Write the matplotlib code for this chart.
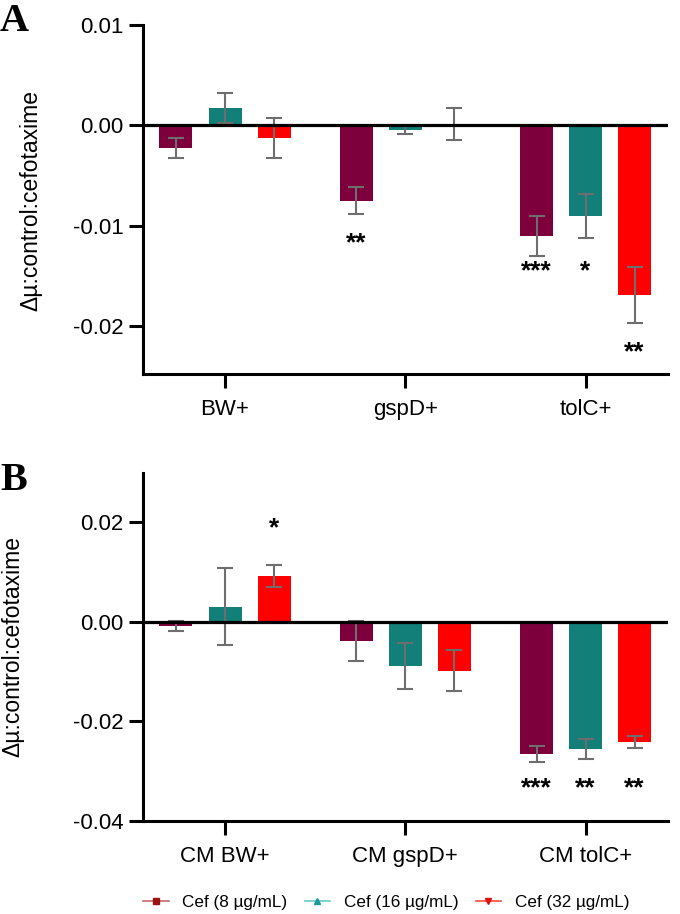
import numpy as np
import matplotlib
matplotlib.use("Agg")
import matplotlib.pyplot as plt
from matplotlib.lines import Line2D

plt.rcParams['font.family'] = ['Liberation Sans', 'DejaVu Sans']
plt.rcParams['axes.unicode_minus'] = False

# ---------------- data ----------------
series = ['Cef (8 µg/mL)', 'Cef (16 µg/mL)', 'Cef (32 µg/mL)']
bar_colors = ['#7d003c', '#127f79', '#ff0000']

cats_a = ['BW+', 'gspD+', 'tolC+']
vals_a = [[-0.0023, -0.0075, -0.0110],
          [0.0017, -0.0005, -0.0090],
          [-0.0013, 0.0001, -0.0169]]
errs_a = [[0.0010, 0.0013, 0.0020],
          [0.0015, 0.0004, 0.0022],
          [0.0020, 0.0016, 0.0028]]
stars_a = [['', '**', '***'],
           ['', '', '*'],
           ['', '', '**']]
star_y_a = [[0, -0.0118, -0.0146],
            [0, 0, -0.0146],
            [0, 0, -0.0226]]

cats_b = ['CM BW+', 'CM gspD+', 'CM tolC+']
vals_b = [[-0.0009, -0.0039, -0.0265],
          [0.0030, -0.0090, -0.0256],
          [0.0092, -0.0099, -0.0242]]
errs_b = [[0.0010, 0.0041, 0.0016],
          [0.0077, 0.0046, 0.0020],
          [0.0022, 0.0041, 0.0012]]
stars_b = [['', '', '***'],
           ['', '', '**'],
           ['*', '', '**']]
star_y_b = [[0, 0, -0.0334],
            [0, 0, -0.0334],
            [0.0188, 0, -0.0334]]


def draw_panel(ax, cats, vals, errs, stars, star_y, ylim, yticks):
    x = np.arange(len(cats))
    offs = [-0.272, 0.0, 0.272]
    for i in range(3):
        ax.bar(x + offs[i], vals[i], width=0.183, color=bar_colors[i],
               zorder=2)
        ax.errorbar(x + offs[i], vals[i], yerr=errs[i], fmt='none',
                    ecolor='#6e6e6e', elinewidth=1.5, capsize=6,
                    capthick=1.5, zorder=3)
        for j in range(len(cats)):
            if stars[i][j]:
                ax.text(x[j] + offs[i], star_y[i][j], stars[i][j],
                        ha='center', va='center', fontsize=19,
                        fontweight='bold', color='black')
    ax.axhline(0, color='black', lw=2.3, zorder=4)
    ax.set_xlim(-0.456, 2.456)
    ax.set_ylim(*ylim)
    ax.set_yticks(yticks)
    ax.set_yticklabels([f'{v:.2f}' for v in yticks])
    ax.set_xticks(x)
    ax.set_xticklabels(cats)
    for s in ['top', 'right']:
        ax.spines[s].set_visible(False)
    for s in ['left', 'bottom']:
        ax.spines[s].set_linewidth(2.2)
    ax.tick_params(axis='y', length=10, width=2.2, labelsize=16, pad=4)
    ax.tick_params(axis='x', length=10, width=2.2, labelsize=16, pad=8)
    ax.set_ylabel('Δµ:control:cefotaxime', fontsize=16.5)


fig = plt.figure(figsize=(6.8, 9.14), dpi=100)
ax_a = fig.add_axes([0.210, 0.5908, 0.772, 0.3818])
ax_b = fig.add_axes([0.210, 0.1018, 0.772, 0.3807])

draw_panel(ax_a, cats_a, vals_a, errs_a, stars_a, star_y_a,
           (-0.0248, 0.010), [0.01, 0.00, -0.01, -0.02])
draw_panel(ax_b, cats_b, vals_b, errs_b, stars_b, star_y_b,
           (-0.040, 0.0298), [0.02, 0.00, -0.02, -0.04])
ax_a.yaxis.set_label_coords(-0.192, 0.496)
ax_b.yaxis.set_label_coords(-0.225, 0.50)

fig.text(0.0, 0.977, 'A', fontsize=29, fontweight='bold',
         family='Liberation Serif', va='center', ha='left')
fig.text(0.0, 0.474, 'B', fontsize=29, fontweight='bold',
         family='Liberation Serif', va='center', ha='left')

# legend (line + marker handles)
handles = [
    Line2D([], [], color='#c76b6b', lw=1.2, marker='s', markersize=4,
           markerfacecolor='#9b1414', markeredgecolor='#9b1414'),
    Line2D([], [], color='#66c9c9', lw=1.2, marker='^', markersize=4,
           markerfacecolor='#1a9a9a', markeredgecolor='#1a9a9a'),
    Line2D([], [], color='#ff4a3a', lw=1.2, marker='v', markersize=4,
           markerfacecolor='#e01010', markeredgecolor='#e01010'),
]
fig.legend(handles, series, loc='center', bbox_to_anchor=(0.568, 0.013),
           ncol=3, frameon=False, fontsize=12.3, handlelength=1.5,
           handletextpad=0.8, columnspacing=1.0)

fig.savefig('out.png', dpi=100)
